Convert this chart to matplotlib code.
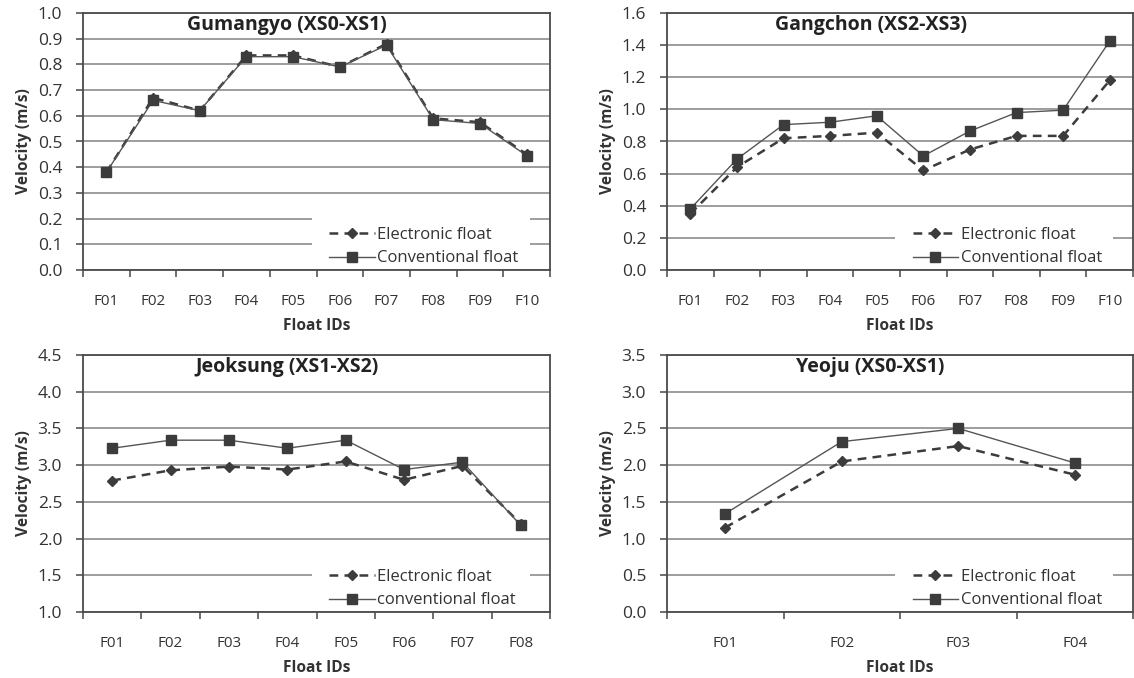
import numpy as np
import matplotlib
matplotlib.use("Agg")
import matplotlib.pyplot as plt
from matplotlib.patches import Rectangle
from matplotlib.ticker import FixedLocator, MultipleLocator, FormatStrFormatter

plt.rcParams['font.family'] = ['Open Sans', 'DejaVu Sans']

# Data
gum_ids = ["F01", "F02", "F03", "F04", "F05", "F06", "F07", "F08", "F09", "F10"]
gum_elec = [0.38, 0.67, 0.62, 0.835, 0.835, 0.79, 0.88, 0.59, 0.575, 0.45]
gum_conv = [0.38, 0.66, 0.62, 0.83, 0.83, 0.79, 0.875, 0.585, 0.57, 0.445]

gang_ids = ["F01", "F02", "F03", "F04", "F05", "F06", "F07", "F08", "F09", "F10"]
gang_elec = [0.35, 0.64, 0.82, 0.835, 0.855, 0.62, 0.75, 0.835, 0.835, 1.18]
gang_conv = [0.38, 0.69, 0.905, 0.92, 0.96, 0.71, 0.865, 0.98, 0.995, 1.425]

jeok_ids = ["F01", "F02", "F03", "F04", "F05", "F06", "F07", "F08"]
jeok_elec = [2.79, 2.93, 2.98, 2.94, 3.05, 2.80, 2.99, 2.20]
jeok_conv = [3.23, 3.34, 3.34, 3.23, 3.34, 2.94, 3.04, 2.18]

yeo_ids = ["F01", "F02", "F03", "F04"]
yeo_elec = [1.15, 2.05, 2.26, 1.87]
yeo_conv = [1.34, 2.32, 2.50, 2.03]

panels = [
    ("Gumangyo (XS0-XS1)", gum_ids, gum_elec, gum_conv, (0.0, 1.0), 0.1, "Conventional float"),
    ("Gangchon (XS2-XS3)", gang_ids, gang_elec, gang_conv, (0.0, 1.6), 0.2, "Conventional float"),
    ("Jeoksung (XS1-XS2)", jeok_ids, jeok_elec, jeok_conv, (1.0, 4.5), 0.5, "conventional float"),
    ("Yeoju (XS0-XS1)", yeo_ids, yeo_elec, yeo_conv, (0.0, 3.5), 0.5, "Conventional float"),
]

W, H = 1134, 678
# axes boxes in pixels: left, top, right, bottom
boxes = [(83, 13, 550, 270), (667, 13, 1133, 270),
         (83, 355, 550, 612), (667, 355, 1133, 612)]

fig = plt.figure(figsize=(W / 100, H / 100), dpi=100)
line_c = "#3c3c3c"
grid_c = "#959595"
text_c = "#333333"

for (title, ids, elec, conv, ylim, step, conv_label), (l, t, r, b) in zip(panels, boxes):
    ax = fig.add_axes([l / W, 1 - b / H, (r - l) / W, (b - t) / H])
    x = np.arange(len(ids))
    ax.plot(x, elec, linestyle=(0, (3.5, 2.5)), color=line_c, lw=1.8,
            marker="D", markersize=4.8, label="Electronic float", zorder=3)
    ax.plot(x, conv, linestyle="-", color="#555555", lw=1.0,
            marker="s", markersize=7.8, markerfacecolor=line_c, markeredgecolor=line_c,
            label=conv_label, zorder=4)

    ax.set_xlim(-0.5, len(ids) - 0.5)
    ax.set_ylim(*ylim)
    ax.yaxis.set_major_locator(MultipleLocator(step))
    ax.yaxis.set_major_formatter(FormatStrFormatter("%.1f"))
    ax.grid(axis="y", color=grid_c, lw=1.3)
    ax.set_axisbelow(True)

    ax.set_xticks(x)
    ax.set_xticklabels(ids)
    ax.xaxis.set_minor_locator(FixedLocator(np.arange(-0.5, len(ids), 1.0)))
    ax.tick_params(axis="x", which="major", length=0, pad=17, labelsize=11, colors=text_c)
    ax.tick_params(axis="x", which="minor", length=5, width=1.2, color="#555555", direction="out")
    ax.tick_params(axis="y", length=5, width=1.2, color="#555555", labelsize=12.5,
                   labelcolor=text_c, pad=10)

    for s in ax.spines.values():
        s.set_color("#4a4a4a")
        s.set_linewidth(1.3)

    ax.set_xlabel("Float IDs", fontsize=11.2, fontweight="bold", color=text_c, labelpad=7)
    ax.set_ylabel("Velocity (m/s)", fontsize=11.2, fontweight="bold", color=text_c, labelpad=4)
    ax.text(0.437, 0.955, title, transform=ax.transAxes, ha="center", va="center",
            fontsize=14, fontweight="bold", color="#222222")

    # white legend area (Excel style, wider than the legend text)
    ax.add_patch(Rectangle((0.49, 0.01), 0.468, 0.21, transform=ax.transAxes,
                           facecolor="white", edgecolor="none", zorder=1))

    leg = ax.legend(loc="lower left", bbox_to_anchor=(0.527, 0.014), frameon=False,
                    fontsize=12, handlelength=2.75, handletextpad=0.15, borderpad=0.0,
                    labelspacing=0.45, borderaxespad=0.0)
    for txt in leg.get_texts():
        txt.set_color(text_c)

fig.savefig("out.png", dpi=100)
